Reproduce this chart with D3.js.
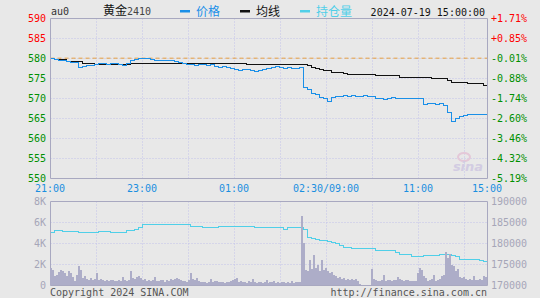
<!DOCTYPE html>
<html lang="zh">
<head>
    <meta charset="UTF-8">
    <title>黄金2410 分时</title>
    <script src="https://cdn.jsdelivr.net/npm/d3@7"></script>
    <style>
        body { margin: 0; background: #e8e8e8; }
        text { font-family: "DejaVu Sans Mono", monospace; font-size: 10px; }
        .cjk { font-family: "Noto Sans CJK SC", sans-serif; font-size: 12px; }
    </style>
</head>
<body>
</body>
</html>
<script>
    //昨结算
    var prevClose = 580.08;
    //价格轴刻度
    var priceTicks = [590, 585, 580, 575, 570, 565, 560, 555, 550];
    //成交量刻度（K）
    var volTicks = [8, 6, 4, 2, 0];
    //持仓量刻度
    var oiTicks = [190000, 185000, 180000, 175000, 170000];
    //时间标签
    var timeLabels = ["21:00", "23:00", "01:00", "02:30/09:00", "11:00", "15:00"];
    var timeSlots = [0, 4, 8, 12, 16, 19];

    //价格（每点约4px）
    var price = [580.1, 579.8, 579.6, 579.4, 579.3, 579.0, 579.1, 577.8, 577.9, 578.2,
        578.3, 578.6, 578.7, 578.7, 578.6, 578.8, 578.7, 578.6, 578.2, 578.7,
        579.6, 579.8, 580.1, 580.0, 580.1, 579.8, 579.5, 579.4, 579.6, 579.4,
        579.4, 579.3, 579.0, 578.7, 578.6, 578.4, 578.3, 578.4, 578.5, 578.3,
        578.4, 578.0, 577.8, 577.9, 577.8, 577.5, 577.2, 577.1, 577.3, 577.2,
        577.1, 576.8, 577.1, 577.2, 577.4, 577.8, 577.9, 577.7, 577.6, 577.7,
        577.5, 577.6, 577.7, 572.8, 572.3, 571.3, 570.9, 570.3, 570.0, 569.3,
        570.2, 570.6, 570.6, 570.7, 570.6, 570.7, 570.6, 570.6, 570.7, 570.6,
        570.6, 570.0, 570.1, 569.8, 570.0, 570.2, 570.1, 570.0, 570.1, 569.9,
        569.9, 570.0, 569.9, 568.4, 568.8, 568.7, 568.6, 568.7, 568.3, 566.5,
        564.2, 565.1, 565.6, 565.8, 566.0, 565.9, 566.0, 565.9, 566.1, 565.8];

    //均价
    var avgPrice = [580.0, 579.7, 579.7, 579.7, 579.25, 579.25, 579.25, 579.25, 578.85, 578.85,
        578.85, 578.6, 578.6, 578.6, 578.6, 578.6, 578.6, 578.6, 578.6, 578.6,
        578.8, 578.8, 578.8, 578.8, 578.8, 578.8, 578.8, 578.8, 578.8, 578.8,
        578.8, 578.8, 578.8, 578.8, 578.8, 578.8, 578.8, 578.8, 578.8, 578.8,
        578.8, 578.8, 578.8, 578.8, 578.8, 578.8, 578.8, 578.8, 578.8, 578.6,
        578.6, 578.6, 578.6, 578.6, 578.6, 578.6, 578.6, 578.6, 578.6, 578.6,
        578.6, 578.6, 578.6, 578.5, 578.3, 577.8, 577.6, 577.3, 577.1, 576.9,
        576.5, 576.5, 576.5, 576.3, 576.0, 576.0, 576.0, 576.0, 576.0, 576.0,
        576.0, 575.7, 575.7, 575.7, 575.7, 575.7, 575.7, 575.3, 575.3, 575.3,
        575.3, 575.3, 575.2, 575.2, 575.2, 574.9, 574.9, 574.9, 574.9, 574.5,
        574.1, 574.1, 574.1, 574.1, 573.7, 573.7, 573.7, 573.7, 573.3, 573.3];

    //持仓量
    var openInterest = [182550, 183020, 183020, 182790, 182790, 182790, 182790, 182550, 182550, 182550,
        182550, 182550, 182790, 182790, 182790, 182620, 182620, 182620, 182620, 183100,
        183100, 183450, 183880, 184450, 184450, 184450, 184450, 184450, 184450, 184450,
        184450, 184450, 184450, 184450, 184450, 183980, 183980, 183980, 183740, 183740,
        183740, 183740, 183980, 183980, 183980, 183980, 183980, 183980, 183980, 183980,
        183980, 183740, 183740, 183740, 183740, 183740, 183740, 183740, 183450, 183740,
        183740, 183740, 183740, 183330, 181500, 181120, 180880, 180710, 180600, 180400,
        180170, 179930, 179520, 179120, 178980, 178740, 178740, 178740, 178740, 178740,
        178740, 178330, 178330, 178330, 178330, 178330, 177930, 177380, 177380, 177380,
        176900, 176900, 176900, 177140, 177140, 177140, 177140, 177380, 177380, 177380,
        177260, 176900, 176190, 176190, 176190, 176190, 176190, 176070, 175710, 175120];

    //成交量（K，每根约2px）
    var volume = [1.6, 1.4, 0.9, 1.0, 1.2, 1.4, 1.3, 1.1, 0.9, 1.3, 1.1, 0.8, 0.4, 1.0, 1.8, 1.4, 0.7, 0.9, 0.6, 0.5, 0.7, 0.5, 0.6, 1.1, 0.5,
        0.6, 0.5, 0.4, 0.5, 0.4, 0.45, 0.5, 0.35, 0.4, 0.5, 0.4, 0.8, 0.5, 0.35, 0.5, 1.3, 0.7, 0.6, 0.8, 0.9, 0.7, 0.5, 0.6, 0.4, 0.45,
        0.4, 0.5, 0.8, 0.4, 0.35, 0.5, 0.45, 0.3, 0.5, 0.4, 0.55, 0.45, 0.6, 0.7, 0.55, 0.5, 0.4, 0.35, 0.3, 0.5, 1.1, 0.6, 0.5, 0.7, 0.4,
        0.3, 0.25, 0.3, 0.2, 0.3, 0.55, 0.3, 0.35, 0.4, 0.3, 0.25, 0.3, 0.2, 0.3, 0.25, 0.35, 0.45, 0.6, 0.65, 0.3, 0.4, 0.25, 0.3, 0.2, 0.35,
        0.3, 0.55, 0.3, 0.2, 0.25, 0.3, 0.2, 0.25, 0.45, 0.2, 0.3, 0.25, 0.35, 0.2, 0.25, 0.2, 0.25, 0.3, 0.2, 0.25, 0.2, 0.35, 0.2, 0.25, 0.3,
        0.3, 6.6, 4.0, 1.4, 1.3, 2.4, 1.5, 2.9, 1.6, 1.9, 1.3, 2.4, 1.4, 1.6, 1.3, 1.1, 1.2, 1.0, 0.9, 0.7, 0.8, 0.6, 0.65, 0.5, 0.55,
        0.45, 0.6, 0.5, 0.55, 0.4, 0.1, 0, 0, 0, 0, 0, 1.5, 0.6, 0.5, 0.4, 0.35, 0.5, 1.0, 0.4, 0.45, 0.5, 0.4, 0.5, 0.45, 0.8,
        0.55, 0.45, 0.4, 0.5, 0.45, 0.35, 0.4, 0.35, 0.4, 1.1, 1.6, 1.4, 0.9, 0.7, 0.4, 0.45, 0.6, 0.95, 0.4, 0.5, 0.55, 0.9, 1.0, 3.1, 2.6,
        3.0, 1.9, 1.8, 1.3, 1.5, 0.8, 0.7, 0.75, 0.6, 0.5, 0.55, 0.45, 0.9, 0.5, 0.45, 0.55, 0.5, 0.85, 0.8];

    //画布
    var width = 540;
    var height = 298;
    var left = 50, right = 487;
    var mainTop = 18, mainBottom = 178;
    var volTop = 201, volBottom = 285;

    var svg = d3.select("body")
            .append("svg")
            .attr("width", width)
            .attr("height", height)
            .style("display", "block")
            .style("background", "#e8e8e8");

    //比例尺
    var xSlot = d3.scaleLinear().domain([0, 19]).range([left, right]);
    var xLine = d3.scaleLinear().domain([0, price.length - 1]).range([left, right]);
    var xVol = d3.scaleLinear().domain([0, volume.length]).range([left, right]);
    var yPrice = d3.scaleLinear().domain([550, 590]).range([mainBottom, mainTop]);
    var yVol = d3.scaleLinear().domain([0, 8]).range([volBottom, volTop]);
    var yOi = d3.scaleLinear().domain([170000, 190000]).range([volBottom, volTop]);

    var gridColor = "#c2c2ea";
    var frameColor = "#a8a8c0";
    var up = "#ff0000", down = "#009000";

    var lines = svg.append("g").attr("transform", "translate(0.5,0.5)");

    //网格
    var gridSlots = d3.range(2, 19, 2);
    function drawGrid(yTicks, yScale, top, bottom) {
        lines.append("g").selectAll("line.h")
                .data(yTicks)
                .enter().append("line")
                .attr("x1", left).attr("x2", right)
                .attr("y1", function (d) { return Math.round(yScale(d)); })
                .attr("y2", function (d) { return Math.round(yScale(d)); })
                .attr("stroke", gridColor)
                .attr("stroke-dasharray", "1,2");
        lines.append("g").selectAll("line.v")
                .data(gridSlots)
                .enter().append("line")
                .attr("x1", function (d) { return Math.round(xSlot(d)); })
                .attr("x2", function (d) { return Math.round(xSlot(d)); })
                .attr("y1", top).attr("y2", bottom)
                .attr("stroke", gridColor)
                .attr("stroke-dasharray", "1,2");
    }
    drawGrid(priceTicks.slice(1, -1), yPrice, mainTop, mainBottom);
    drawGrid(volTicks.slice(1, -1), yVol, volTop, volBottom);

    //水印
    svg.append("ellipse")
            .attr("cx", 464).attr("cy", 157).attr("rx", 6).attr("ry", 4)
            .attr("fill", "none").attr("stroke", "#e4c8d8").attr("stroke-width", 2);
    svg.append("text")
            .attr("x", 468).attr("y", 171)
            .attr("text-anchor", "middle")
            .attr("fill", "#d2cce2")
            .style("font-family", "DejaVu Sans")
            .style("font-size", "13px")
            .style("font-weight", "bold")
            .style("font-style", "italic")
            .text("sina");

    //成交量柱
    svg.append("g").selectAll("rect")
            .data(volume)
            .enter().append("rect")
            .attr("x", function (d, i) { return xVol(i); })
            .attr("width", function (d, i) { return xVol(i + 1) - xVol(i); })
            .attr("y", function (d) { return yVol(d); })
            .attr("height", function (d) { return volBottom - yVol(d); })
            .attr("fill", "#adadc8")
            .attr("shape-rendering", "crispEdges");

    //昨结算虚线
    lines.append("line")
            .attr("x1", left).attr("x2", right)
            .attr("y1", yPrice(prevClose)).attr("y2", yPrice(prevClose))
            .attr("stroke", "#e8a040")
            .attr("stroke-dasharray", "4,3");

    //线
    function drawLine(data, yScale, color) {
        var gen = d3.line()
                .x(function (d, i) { return Math.round(xLine(i)); })
                .y(function (d) { return Math.round(yScale(d)); })
                .curve(d3.curveStepAfter);
        lines.append("path")
                .datum(data)
                .attr("d", gen)
                .attr("fill", "none")
                .attr("stroke", color)
                .attr("stroke-width", 1.3)
                .attr("shape-rendering", "crispEdges");
    }
    drawLine(openInterest, yOi, "#50cfe8");
    drawLine(avgPrice, yPrice, "#111111");
    drawLine(price, yPrice, "#1a8fe8");

    //边框
    lines.append("path")
            .attr("d", "M" + left + "," + mainTop + "H" + right + "V" + mainBottom + "H" + left + "Z")
            .attr("fill", "none").attr("stroke", frameColor);
    lines.append("path")
            .attr("d", "M" + left + "," + volTop + "H" + right + "V" + volBottom + "H" + left + "Z")
            .attr("fill", "none").attr("stroke", frameColor);

    //左轴价格
    svg.append("g").selectAll("text")
            .data(priceTicks)
            .enter().append("text")
            .attr("x", 46).attr("y", function (d) { return yPrice(d); })
            .attr("dy", "0.35em")
            .attr("text-anchor", "end")
            .attr("fill", function (d) { return d > prevClose ? up : down; })
            .text(function (d) { return d; });

    //右轴涨跌幅
    svg.append("g").selectAll("text")
            .data(priceTicks)
            .enter().append("text")
            .attr("x", 491).attr("y", function (d) { return yPrice(d); })
            .attr("dy", "0.35em")
            .attr("fill", function (d) { return d > prevClose ? up : down; })
            .text(function (d) {
                var p = (d / prevClose - 1) * 100;
                return (p > 0 ? "+" : "") + p.toFixed(2) + "%";
            });

    //时间轴
    svg.append("g").selectAll("text")
            .data(timeLabels)
            .enter().append("text")
            .attr("x", function (d, i) { return xSlot(timeSlots[i]); })
            .attr("y", 192)
            .attr("text-anchor", "middle")
            .attr("fill", "#1a8fe0")
            .text(function (d) { return d; });

    //成交量轴
    svg.append("g").selectAll("text")
            .data(volTicks)
            .enter().append("text")
            .attr("x", 46).attr("y", function (d) { return yVol(d); })
            .attr("dy", "0.35em")
            .attr("text-anchor", "end")
            .attr("fill", "#a6a6b8")
            .text(function (d) { return d === 0 ? "0" : d + "K"; });

    //持仓量轴
    svg.append("g").selectAll("text")
            .data(oiTicks)
            .enter().append("text")
            .attr("x", 491).attr("y", function (d) { return yOi(d); })
            .attr("dy", "0.35em")
            .attr("fill", "#a6a6b8")
            .text(function (d) { return d; });

    //标题
    svg.append("text").attr("x", 51).attr("y", 15).attr("fill", "#333").text("au0");
    var t = svg.append("text").attr("x", 103).attr("y", 15).attr("fill", "#111");
    t.append("tspan").attr("class", "cjk").text("黄金");
    t.append("tspan").attr("fill", "#444").text("2410");

    //图例
    var legend = [
        {name: "价格", color: "#1a8fe8", x: 180},
        {name: "均线", color: "#111111", x: 240},
        {name: "持仓量", color: "#50cfe8", x: 300}
    ];
    var lg = svg.append("g").selectAll("g")
            .data(legend)
            .enter().append("g");
    lg.append("rect")
            .attr("x", function (d) { return d.x; })
            .attr("y", 10).attr("width", 10).attr("height", 2.5)
            .attr("fill", function (d) { return d.color; });
    lg.append("text")
            .attr("class", "cjk")
            .attr("x", function (d) { return d.x + 16; })
            .attr("y", 15.5)
            .attr("fill", function (d) { return d.color; })
            .text(function (d) { return d.name; });

    svg.append("text").attr("x", 485).attr("y", 15.5)
            .attr("text-anchor", "end").attr("fill", "#111")
            .text("2024-07-19 15:00:00");

    //版权
    svg.append("text").attr("x", 50).attr("y", 296).attr("fill", "#555").text("Copyright 2024 SINA.COM");
    svg.append("text").attr("x", 487).attr("y", 296).attr("text-anchor", "end").attr("fill", "#555")
            .text("http://finance.sina.com.cn");
</script>
